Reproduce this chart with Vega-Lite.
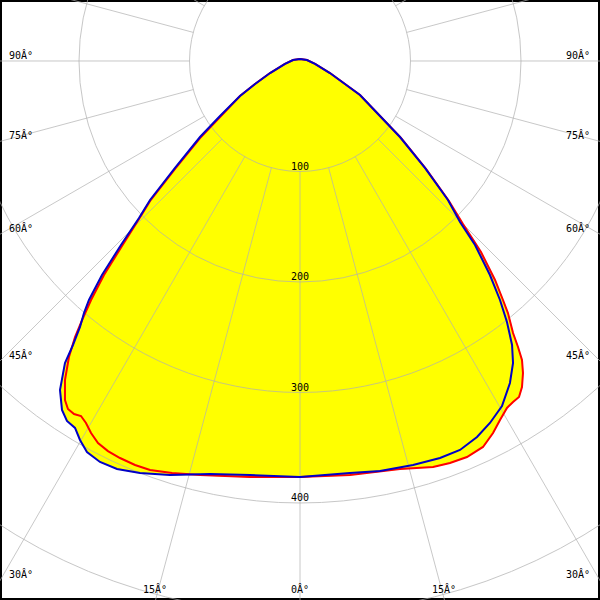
{
  "$schema": "https://vega.github.io/schema/vega-lite/v6.json",
  "width": 600,
  "height": 600,
  "padding": 0,
  "autosize": {"type": "none"},
  "background": "white",
  "config": {"view": {"stroke": "#000000", "strokeWidth": 4}},
  "datasets": {
    "blue": [
      {"i":1,"x":0,"y":1.8},{"i":2,"x":-6.3,"y":0.9},{"i":3,"x":-13.6,"y":-2.7},{"i":4,"x":-27.1,"y":-10.9},
      {"i":5,"x":-40.7,"y":-20.8},{"i":6,"x":-54.3,"y":-31.7},{"i":7,"x":-72.4,"y":-49.8},{"i":8,"x":-90.5,"y":-68.8},
      {"i":9,"x":-113.1,"y":-96.8},{"i":10,"x":-135.7,"y":-125.8},{"i":11,"x":-145.7,"y":-142.1},{"i":12,"x":-162.0,"y":-166.5},
      {"i":13,"x":-179.2,"y":-193.7},{"i":14,"x":-191.0,"y":-216.3},{"i":14.5,"x":-195.5,"y":-228.1},{"i":15,"x":-199.1,"y":-240.7},{"i":16,"x":-205.4,"y":-257.0},
      {"i":17,"x":-212.7,"y":-273.3},{"i":18,"x":-217.2,"y":-297.7},{"i":19,"x":-215.4,"y":-315.8},{"i":20,"x":-210.9,"y":-325.8},
      {"i":21,"x":-203.6,"y":-332.1},{"i":22,"x":-199.1,"y":-343.0},{"i":23,"x":-192.8,"y":-353.9},{"i":24,"x":-181.0,"y":-362.9},
      {"i":25,"x":-165.6,"y":-369.2},{"i":26,"x":-144.8,"y":-372.9},{"i":27,"x":-117.6,"y":-374.7},{"i":28,"x":-81.4,"y":-373.8},
      {"i":29,"x":-45.2,"y":-374.7},{"i":30,"x":0,"y":-376.5},{"i":31,"x":45.2,"y":-372.9},{"i":32,"x":72.4,"y":-371.0},
      {"i":33,"x":102.3,"y":-365.6},{"i":34,"x":126.7,"y":-359.3},{"i":35,"x":144.8,"y":-352.0},{"i":36,"x":160.2,"y":-340.3},
      {"i":37,"x":171.9,"y":-327.6},{"i":38,"x":182.8,"y":-312.2},{"i":39,"x":190.0,"y":-291.4},{"i":40,"x":192.8,"y":-273.3},
      {"i":41,"x":191.9,"y":-257.0},{"i":42,"x":187.3,"y":-236.2},{"i":43,"x":181.0,"y":-216.3},{"i":44,"x":171.9,"y":-193.7},
      {"i":45,"x":158.4,"y":-166.5},{"i":46,"x":144.8,"y":-145.7},{"i":47,"x":133.9,"y":-125.8},{"i":48,"x":113.1,"y":-96.8},
      {"i":49,"x":90.5,"y":-68.8},{"i":50,"x":72.4,"y":-49.8},{"i":51,"x":54.3,"y":-30.8},{"i":52,"x":40.7,"y":-20.8},
      {"i":53,"x":27.1,"y":-10.9},{"i":54,"x":13.6,"y":-2.7},{"i":55,"x":6.3,"y":0.9},{"i":56,"x":0,"y":1.8}
    ],
    "red": [
      {"i":1,"x":0,"y":1.8},{"i":2,"x":-6.3,"y":0.9},{"i":3,"x":-13.6,"y":-2.7},{"i":4,"x":-27.1,"y":-10.9},
      {"i":5,"x":-40.7,"y":-20.8},{"i":6,"x":-54.3,"y":-31.7},{"i":7,"x":-72.4,"y":-50.7},{"i":8,"x":-90.5,"y":-69.7},
      {"i":9,"x":-113.1,"y":-97.7},{"i":10,"x":-135.7,"y":-126.7},{"i":11,"x":-145.7,"y":-143.0},{"i":12,"x":-161.1,"y":-167.4},
      {"i":13,"x":-177.4,"y":-193.7},{"i":14,"x":-189.1,"y":-216.3},{"i":15,"x":-196.4,"y":-232.6},{"i":16,"x":-203.6,"y":-249.8},
      {"i":17,"x":-209.1,"y":-267.9},{"i":18,"x":-212.7,"y":-288.7},{"i":19,"x":-212.7,"y":-306.8},{"i":20,"x":-210.0,"y":-314.9},
      {"i":21,"x":-204.5,"y":-319.5},{"i":22,"x":-198.2,"y":-321.3},{"i":23,"x":-193.7,"y":-327.6},{"i":24,"x":-189.1,"y":-336.7},
      {"i":25,"x":-182.8,"y":-345.7},{"i":26,"x":-173.8,"y":-353.0},{"i":27,"x":-162.9,"y":-359.3},{"i":28,"x":-149.3,"y":-365.6},
      {"i":29,"x":-135.7,"y":-370.1},{"i":30,"x":-115.8,"y":-372.9},{"i":31,"x":-90.5,"y":-374.7},{"i":32,"x":-45.2,"y":-376.5},
      {"i":33,"x":0,"y":-376.5},{"i":34,"x":45.2,"y":-374.7},{"i":35,"x":90.5,"y":-369.2},{"i":36,"x":120.4,"y":-367.4},
      {"i":37,"x":135.7,"y":-363.8},{"i":38,"x":151.1,"y":-358.4},{"i":39,"x":165.6,"y":-349.3},{"i":40,"x":174.7,"y":-336.7},
      {"i":41,"x":181.0,"y":-324.9},{"i":42,"x":187.3,"y":-314.0},{"i":43,"x":192.8,"y":-308.6},{"i":44,"x":198.2,"y":-304.1},
      {"i":45,"x":200.9,"y":-295.0},{"i":46,"x":201.8,"y":-282.4},{"i":47,"x":200.9,"y":-270.6},{"i":48,"x":197.3,"y":-258.8},
      {"i":49,"x":192.8,"y":-246.2},{"i":50,"x":188.2,"y":-228.1},{"i":51,"x":183.7,"y":-216.3},{"i":52,"x":176.5,"y":-198.2},
      {"i":53,"x":163.8,"y":-172.9},{"i":54,"x":147.5,"y":-147.5},{"i":55,"x":134.8,"y":-126.7},{"i":56,"x":114.0,"y":-97.7},
      {"i":57,"x":91.4,"y":-69.7},{"i":58,"x":72.4,"y":-49.8},{"i":59,"x":54.3,"y":-30.8},{"i":60,"x":40.7,"y":-20.8},
      {"i":61,"x":27.1,"y":-10.9},{"i":62,"x":13.6,"y":-2.7},{"i":63,"x":6.3,"y":0.9},{"i":64,"x":0,"y":1.8}
    ],
    "rings": [
      {"x":0,"y":0,"r":100},{"x":0,"y":0,"r":200},{"x":0,"y":0,"r":300},{"x":0,"y":0,"r":400},{"x":0,"y":0,"r":500}
    ],
    "spokes": [
      {"x":0,"y":-100,"x2":0,"y2":-700},
      {"x":25.88,"y":-96.59,"x2":181.2,"y2":-676.1},{"x":-25.88,"y":-96.59,"x2":-181.2,"y2":-676.1},
      {"x":50,"y":-86.6,"x2":350,"y2":-606.2},{"x":-50,"y":-86.6,"x2":-350,"y2":-606.2},
      {"x":70.71,"y":-70.71,"x2":495,"y2":-495},{"x":-70.71,"y":-70.71,"x2":-495,"y2":-495},
      {"x":86.6,"y":-50,"x2":606.2,"y2":-350},{"x":-86.6,"y":-50,"x2":-606.2,"y2":-350},
      {"x":96.59,"y":-25.88,"x2":676.1,"y2":-181.2},{"x":-96.59,"y":-25.88,"x2":-676.1,"y2":-181.2},
      {"x":100,"y":0,"x2":700,"y2":0},{"x":-100,"y":0,"x2":-700,"y2":0},
      {"x":96.59,"y":25.88,"x2":676.1,"y2":181.2},{"x":-96.59,"y":25.88,"x2":-676.1,"y2":181.2},
      {"x":86.6,"y":50,"x2":606.2,"y2":350},{"x":-86.6,"y":50,"x2":-606.2,"y2":350},
      {"x":70.71,"y":70.71,"x2":495,"y2":495},{"x":-70.71,"y":70.71,"x2":-495,"y2":495},
      {"x":50,"y":86.6,"x2":350,"y2":606.2},{"x":-50,"y":86.6,"x2":-350,"y2":606.2},
      {"x":25.88,"y":96.59,"x2":181.2,"y2":676.1},{"x":-25.88,"y":96.59,"x2":-181.2,"y2":676.1},
      {"x":0,"y":100,"x2":0,"y2":700}
    ],
    "valueLabels": [
      {"t":"100","x":0,"y":-98.5},{"t":"200","x":0,"y":-198.5},{"t":"300","x":0,"y":-298.5},{"t":"400","x":0,"y":-398.5}
    ],
    "leftLabels": [
      {"t":"90Â°","x":-263.4,"y":1.8},{"t":"75Â°","x":-263.4,"y":-70.6},{"t":"60Â°","x":-263.4,"y":-154.8},
      {"t":"45Â°","x":-263.4,"y":-269.7},{"t":"30Â°","x":-263.4,"y":-467.9}
    ],
    "rightLabels": [
      {"t":"90Â°","x":262.5,"y":1.8},{"t":"75Â°","x":262.5,"y":-70.6},{"t":"60Â°","x":262.5,"y":-154.8},
      {"t":"45Â°","x":262.5,"y":-269.7},{"t":"30Â°","x":262.5,"y":-467.9}
    ],
    "bottomLabels": [
      {"t":"15Â°","x":-131.2,"y":-481.5},{"t":"0Â°","x":0,"y":-481.5},{"t":"15Â°","x":130.3,"y":-481.5}
    ]
  },
  "layer": [
    {
      "data": {"name": "red"},
      "mark": {"type": "line", "fill": "#ffff00", "stroke": "#ffff00", "strokeWidth": 1, "clip": true},
      "encoding": {
        "x": {"field": "x", "type": "quantitative", "scale": {"domain": [-271.5, 271.5], "nice": false, "zero": false}, "axis": null},
        "y": {"field": "y", "type": "quantitative", "scale": {"domain": [-487.8, 55.2], "nice": false, "zero": false}, "axis": null},
        "order": {"field": "i", "type": "quantitative"}
      }
    },
    {
      "data": {"name": "blue"},
      "mark": {"type": "line", "fill": "#ffff00", "stroke": "#ffff00", "strokeWidth": 1, "clip": true},
      "encoding": {
        "x": {"field": "x", "type": "quantitative", "scale": {"domain": [-271.5, 271.5], "nice": false, "zero": false}, "axis": null},
        "y": {"field": "y", "type": "quantitative", "scale": {"domain": [-487.8, 55.2], "nice": false, "zero": false}, "axis": null},
        "order": {"field": "i", "type": "quantitative"}
      }
    },
    {
      "data": {"name": "rings"},
      "mark": {"type": "point", "shape": "circle", "filled": false, "stroke": "#b0b0b0", "strokeWidth": 1, "opacity": 0.7, "clip": true},
      "encoding": {
        "x": {"field": "x", "type": "quantitative", "scale": {"domain": [-271.5, 271.5], "nice": false, "zero": false}, "axis": null},
        "y": {"field": "y", "type": "quantitative", "scale": {"domain": [-487.8, 55.2], "nice": false, "zero": false}, "axis": null},
        "size": {"field": "r", "type": "quantitative", "scale": {"type": "pow", "exponent": 2, "domain": [0, 500], "range": [0, 1221025]}, "legend": null}
      }
    },
    {
      "data": {"name": "spokes"},
      "mark": {"type": "rule", "stroke": "#b0b0b0", "strokeWidth": 1, "opacity": 0.7, "clip": true},
      "encoding": {
        "x": {"field": "x", "type": "quantitative", "scale": {"domain": [-271.5, 271.5], "nice": false, "zero": false}, "axis": null},
        "y": {"field": "y", "type": "quantitative", "scale": {"domain": [-487.8, 55.2], "nice": false, "zero": false}, "axis": null},
        "x2": {"field": "x2"},
        "y2": {"field": "y2"}
      }
    },
    {
      "data": {"name": "red"},
      "mark": {"type": "line", "stroke": "#ff0000", "strokeWidth": 2, "clip": true},
      "encoding": {
        "x": {"field": "x", "type": "quantitative", "scale": {"domain": [-271.5, 271.5], "nice": false, "zero": false}, "axis": null},
        "y": {"field": "y", "type": "quantitative", "scale": {"domain": [-487.8, 55.2], "nice": false, "zero": false}, "axis": null},
        "order": {"field": "i", "type": "quantitative"}
      }
    },
    {
      "data": {"name": "blue"},
      "mark": {"type": "line", "stroke": "#0000c8", "strokeWidth": 2, "clip": true},
      "encoding": {
        "x": {"field": "x", "type": "quantitative", "scale": {"domain": [-271.5, 271.5], "nice": false, "zero": false}, "axis": null},
        "y": {"field": "y", "type": "quantitative", "scale": {"domain": [-487.8, 55.2], "nice": false, "zero": false}, "axis": null},
        "order": {"field": "i", "type": "quantitative"}
      }
    },
    {
      "data": {"name": "valueLabels"},
      "mark": {"type": "text", "align": "center", "baseline": "alphabetic", "font": "DejaVu Sans Mono", "fontSize": 10, "fill": "#000000"},
      "encoding": {
        "x": {"field": "x", "type": "quantitative", "scale": {"domain": [-271.5, 271.5], "nice": false, "zero": false}, "axis": null},
        "y": {"field": "y", "type": "quantitative", "scale": {"domain": [-487.8, 55.2], "nice": false, "zero": false}, "axis": null},
        "text": {"field": "t"}
      }
    },
    {
      "data": {"name": "leftLabels"},
      "mark": {"type": "text", "align": "left", "baseline": "alphabetic", "font": "DejaVu Sans Mono", "fontSize": 10, "fill": "#000000"},
      "encoding": {
        "x": {"field": "x", "type": "quantitative", "scale": {"domain": [-271.5, 271.5], "nice": false, "zero": false}, "axis": null},
        "y": {"field": "y", "type": "quantitative", "scale": {"domain": [-487.8, 55.2], "nice": false, "zero": false}, "axis": null},
        "text": {"field": "t"}
      }
    },
    {
      "data": {"name": "rightLabels"},
      "mark": {"type": "text", "align": "right", "baseline": "alphabetic", "font": "DejaVu Sans Mono", "fontSize": 10, "fill": "#000000"},
      "encoding": {
        "x": {"field": "x", "type": "quantitative", "scale": {"domain": [-271.5, 271.5], "nice": false, "zero": false}, "axis": null},
        "y": {"field": "y", "type": "quantitative", "scale": {"domain": [-487.8, 55.2], "nice": false, "zero": false}, "axis": null},
        "text": {"field": "t"}
      }
    },
    {
      "data": {"name": "bottomLabels"},
      "mark": {"type": "text", "align": "center", "baseline": "alphabetic", "font": "DejaVu Sans Mono", "fontSize": 10, "fill": "#000000"},
      "encoding": {
        "x": {"field": "x", "type": "quantitative", "scale": {"domain": [-271.5, 271.5], "nice": false, "zero": false}, "axis": null},
        "y": {"field": "y", "type": "quantitative", "scale": {"domain": [-487.8, 55.2], "nice": false, "zero": false}, "axis": null},
        "text": {"field": "t"}
      }
    }
  ]
}
